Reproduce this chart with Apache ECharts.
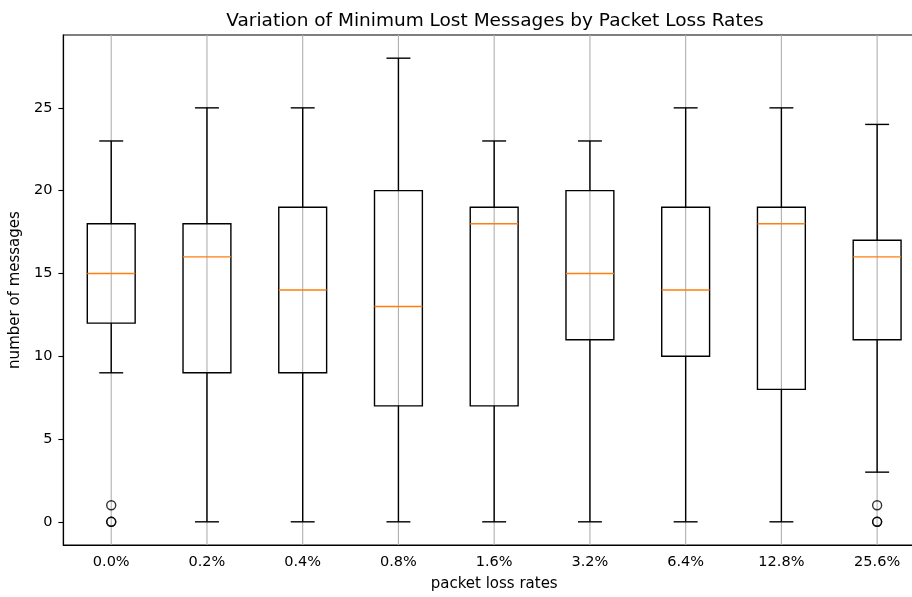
<!DOCTYPE html>
<html>
<head>
	<meta charset="utf-8" />
	<title>Variation of Minimum Lost Messages</title>
	<script src="https://cdn.jsdelivr.net/npm/echarts@6/dist/echarts.min.js"></script>
	<style>
		html, body { margin: 0; padding: 0; background: #fff; overflow: hidden; }
		/* wider than the window: the plot's right edge runs off the picture like the original */
		#chart { width: 940px; height: 597px; }
	</style>
</head>
<body>
	<div id="chart"></div>
	<script type="text/javascript">
		// packet loss rates
		var categories = ['0.0%', '0.2%', '0.4%', '0.8%', '1.6%', '3.2%', '6.4%', '12.8%', '25.6%'];
		// box stats per rate
		var whiskerLow = [9, 0, 0, 0, 0, 0, 0, 0, 3];
		var q1 = [12, 9, 9, 7, 7, 11, 10, 8, 11];
		var median = [15, 16, 14, 13, 18, 15, 14, 18, 16];
		var q3 = [18, 18, 19, 20, 19, 20, 19, 19, 17];
		var whiskerHigh = [23, 25, 25, 28, 23, 23, 25, 25, 24];
		// fliers: [category index, value]
		var outliers = [[0, 0], [0, 0], [0, 1], [8, 0], [8, 0], [8, 1]];

		var boxData = categories.map(function (c, i) {
			return [i, whiskerLow[i], q1[i], median[i], q3[i], whiskerHigh[i]];
		});

		var font = 'DejaVu Sans';

		function renderBox(params, api) {
			var idx = api.value(0);
			var band = api.size([1, 0])[0];
			var cx = api.coord([idx, 0])[0];
			var yLow = api.coord([idx, api.value(1)])[1];
			var yQ1 = api.coord([idx, api.value(2)])[1];
			var yMed = api.coord([idx, api.value(3)])[1];
			var yQ3 = api.coord([idx, api.value(4)])[1];
			var yHigh = api.coord([idx, api.value(5)])[1];
			var half = band * 0.25;
			var cap = band * 0.125;
			var cs = params.coordSys;
			var black = { stroke: '#000', lineWidth: 1.4, fill: null };
			return {
				type: 'group',
				children: [
					// vertical grid line behind the box
					{ type: 'line', shape: { x1: cx, y1: cs.y, x2: cx, y2: cs.y + cs.height }, style: { stroke: '#b0b0b0', lineWidth: 1.1 }, z2: 0 },
					{ type: 'line', shape: { x1: cx, y1: yLow, x2: cx, y2: yQ1 }, style: black, z2: 1 },
					{ type: 'line', shape: { x1: cx, y1: yQ3, x2: cx, y2: yHigh }, style: black, z2: 1 },
					{ type: 'line', shape: { x1: cx - cap, y1: yLow, x2: cx + cap, y2: yLow }, style: black, z2: 1 },
					{ type: 'line', shape: { x1: cx - cap, y1: yHigh, x2: cx + cap, y2: yHigh }, style: black, z2: 1 },
					{ type: 'rect', shape: { x: cx - half, y: yQ3, width: half * 2, height: yQ1 - yQ3 }, style: black, z2: 1 },
					{ type: 'line', shape: { x1: cx - half, y1: yMed, x2: cx + half, y2: yMed }, style: { stroke: '#ff7f0e', lineWidth: 1.4 }, z2: 2 }
				]
			};
		}

		var chart = echarts.init(document.getElementById('chart'), null, { renderer: 'canvas' });

		var option = {
			animation: false,
			textStyle: { fontFamily: font },
			title: {
				text: 'Variation of Minimum Lost Messages by Packet Loss Rates',
				left: 490,
				textAlign: 'center',
				top: 7,
				textStyle: { fontFamily: font, fontSize: 18.5, fontWeight: 'normal', color: '#000' }
			},
			grid: {
				left: 63,
				top: 35,
				width: 862,
				height: 513,
				show: true,
				borderColor: '#000',
				borderWidth: 1.2,
				containLabel: false
			},
			xAxis: {
				type: 'category',
				data: categories,
				boundaryGap: true,
				name: 'packet loss rates',
				nameLocation: 'middle',
				nameGap: 32,
				nameTextStyle: { fontFamily: font, fontSize: 15, color: '#000' },
				axisLine: { onZero: false, lineStyle: { color: '#000', width: 1.2 } },
				axisTick: { alignWithLabel: true, length: 5, lineStyle: { color: '#000', width: 1.1 } },
				axisLabel: { fontFamily: font, fontSize: 14.5, color: '#000', margin: 10 },
				splitLine: { show: false }
			},
			yAxis: {
				type: 'value',
				min: -1.4,
				max: 29.4,
				name: 'number of messages',
				nameLocation: 'middle',
				nameGap: 33,
				nameTextStyle: { fontFamily: font, fontSize: 15, color: '#000' },
				axisLine: { show: true, lineStyle: { color: '#000', width: 1.2 } },
				axisTick: { show: true, length: 5, lineStyle: { color: '#000', width: 1.1 } },
				axisLabel: {
					fontFamily: font, fontSize: 14.5, color: '#000', margin: 11,
					showMinLabel: false, showMaxLabel: false,
					formatter: function (v) { return (Math.abs(v % 5) < 1e-9 && v >= 0) ? String(v) : ''; }
				},
				splitLine: { show: false }
			},
			series: [
				{
					type: 'custom',
					renderItem: renderBox,
					encode: { x: 0, y: [1, 2, 3, 4, 5] },
					data: boxData,
					z: 2
				},
				{
					type: 'scatter',
					data: outliers,
					symbol: 'circle',
					symbolSize: 9,
					itemStyle: { color: 'rgba(0,0,0,0)', borderColor: '#000', borderWidth: 1.4 },
					z: 3
				}
			]
		};

		chart.setOption(option);
	</script>
</body>
</html>
